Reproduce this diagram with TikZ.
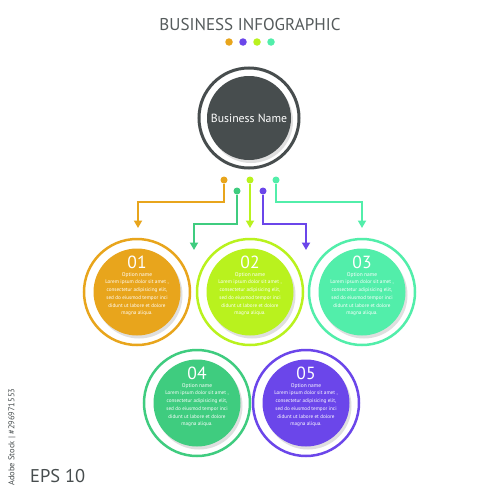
\documentclass[tikz,border=0pt]{standalone}
\usepackage{fontspec}
\setmainfont{PT Sans}
\usetikzlibrary{arrows.meta, shadows}

\definecolor{cOrange}{HTML}{E8A51C}
\definecolor{cLime}{HTML}{B9F21E}
\definecolor{cMint}{HTML}{52EEAA}
\definecolor{cGreen}{HTML}{3FCC7F}
\definecolor{cPurple}{HTML}{6B46EA}
\definecolor{cDark}{HTML}{474D4E}
\definecolor{cTitle}{HTML}{555B5C}

\begin{document}
\begin{tikzpicture}[
        x=0.2mm, y=-0.2mm,
        ring/.style={circle, line width=0.5mm, minimum size=21.2mm, inner sep=0pt},
        disc/.style={circle, minimum size=17.4mm, inner sep=0pt,
            drop shadow={opacity=0.25, shadow xshift=0.4mm, shadow yshift=-0.6mm}},
        dot/.style={circle, minimum size=1.4mm, inner sep=0pt},
        conn/.style={line width=0.5mm},
        info/.style={text=white, align=center, font=\fontsize{2.95}{4.4}\selectfont},
        >={Triangle[length=1.5mm, width=1.6mm]}
    ]
        \fill[white] (0,0) rectangle (500,500);
        \useasboundingbox (0,0) rectangle (500,500);

        % Title
        \node[font=\fontsize{9.7}{11}\selectfont, text=cTitle] (title) at (250,25) {BUSINESS INFOGRAPHIC};
        \foreach \i/\c in {1/cOrange, 2/cPurple, 3/cLime, 4/cMint}
            \node[dot, minimum size=1.5mm, fill=\c] (k\i) at ({215+14*\i},42) {};

        % Business name
        \node[ring, draw=cDark, line width=0.6mm, minimum size=20mm] (top) at (249,118) {};
        \node[disc, fill=cDark, minimum size=16.8mm, text=white,
            font=\fontsize{6.7}{8}\selectfont] (name) at (249,118) {Business Name};

        % Connector dots, bends and ends
        \node[dot, fill=cOrange] (d1) at (224,180) {};
        \node[dot, fill=cLime] (d2) at (250,180) {};
        \node[dot, fill=cMint] (d3) at (276,180) {};
        \node[dot, fill=cGreen] (d4) at (237,191) {};
        \node[dot, fill=cPurple] (d5) at (263,191) {};
        \coordinate (b1) at (138,202);
        \coordinate (b3) at (362,202);
        \coordinate (b4) at (194,224);
        \coordinate (b5) at (306,224);
        \coordinate (e1) at (138,228);
        \coordinate (e2) at (250,228);
        \coordinate (e3) at (362,228);
        \coordinate (e4) at (194,250);
        \coordinate (e5) at (306,250);

        % Connections
        \draw[conn, cOrange, ->] (d1) |- (b1) -- (e1);
        \draw[conn, cLime, ->] (d2) -- (e2);
        \draw[conn, cMint, ->] (d3) |- (b3) -- (e3);
        \draw[conn, cGreen, ->] (d4) |- (b4) -- (e4);
        \draw[conn, cPurple, ->] (d5) |- (b5) -- (e5);

        % Options
        \foreach \n/\x/\y/\c in {1/137/292/cOrange, 2/250/292/cLime, 3/362/292/cMint,
                                 4/197/403/cGreen, 5/306/403/cPurple} {
            \node[ring, draw=\c] (r\n) at (\x,\y) {};
            \node[disc, fill=\c] (c\n) at (\x,\y) {};
            \node[info] (t\n) at (\x,{\y-6}) {{\fontsize{10}{10}\selectfont 0\n}\\
                {\fontsize{3.1}{3.5}\selectfont Option name}\\
                Lorem ipsum dolor sit amet ,\\ consectetur adipisicing elit,\\
                sed do eiusmod tempor inci\\ didunt ut labore et dolore\\ magna aliqua.};
        }

        % Footer
        \node[anchor=west, font=\fontsize{10.5}{12}\selectfont, text=cDark] (eps) at (24,476) {EPS 10};
        \node[rotate=90, anchor=west, font=\fontsize{4.8}{5}\selectfont, text=cDark] (stock) at (12,492) {Adobe Stock | \#296971553};
    \end{tikzpicture}
\end{document}
